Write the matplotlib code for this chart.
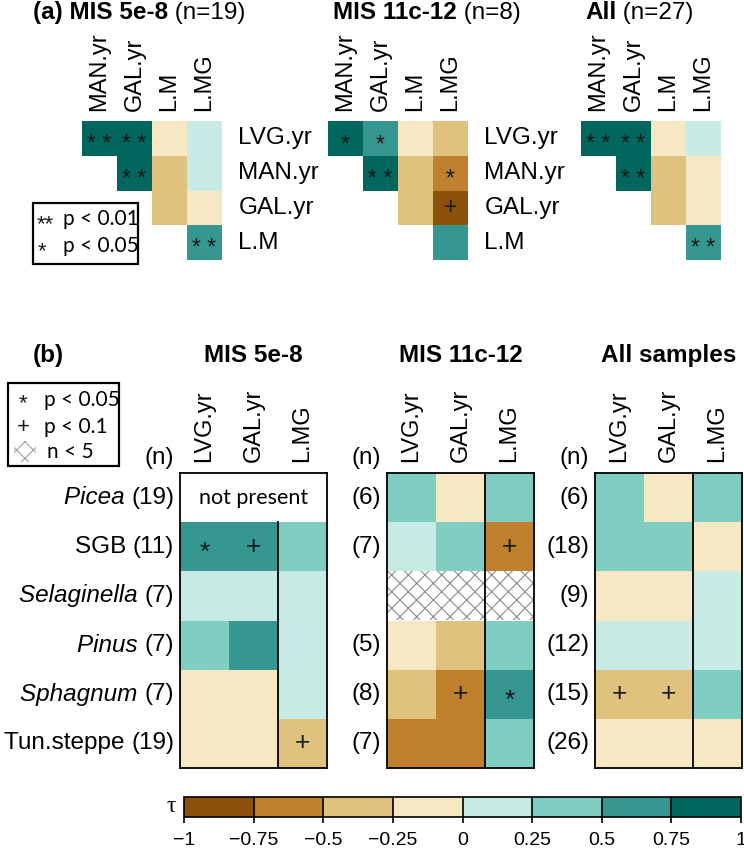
import numpy as np
import matplotlib
matplotlib.use('Agg')
import matplotlib.pyplot as plt
from matplotlib.colors import ListedColormap, BoundaryNorm
from matplotlib.patches import Rectangle
import matplotlib.cm as cm

plt.rcParams['font.family'] = ['Liberation Sans', 'DejaVu Sans']
plt.rcParams['hatch.linewidth'] = 0.8

nan = np.nan

# ---- panel (a): correlations among predictors ----
a_cols = ['MAN.yr', 'GAL.yr', 'L.M', 'L.MG']
a_rows = ['LVG.yr', 'MAN.yr', 'GAL.yr', 'L.M']

tau_a_5e8 = [[0.85, 0.85, -0.1, 0.1],
             [nan, 0.85, -0.35, 0.1],
             [nan, nan, -0.35, -0.1],
             [nan, nan, nan, 0.6]]
sig_a_5e8 = [['**', '**', '', ''],
             ['', '**', '', ''],
             ['', '', '', ''],
             ['', '', '', '**']]

tau_a_11c = [[0.8, 0.6, -0.1, -0.35],
             [nan, 0.85, -0.35, -0.6],
             [nan, nan, -0.35, -0.85],
             [nan, nan, nan, 0.6]]
sig_a_11c = [['*', '*', '', ''],
             ['', '**', '', '*'],
             ['', '', '', '+'],
             ['', '', '', '']]

tau_a_all = [[0.85, 0.85, -0.1, 0.1],
             [nan, 0.85, -0.35, -0.1],
             [nan, nan, -0.35, -0.1],
             [nan, nan, nan, 0.6]]
sig_a_all = [['**', '**', '', ''],
             ['', '**', '', ''],
             ['', '', '', ''],
             ['', '', '', '**']]

# ---- panel (b): taxa vs predictors ----
b_cols = ['LVG.yr', 'GAL.yr', 'L.MG']
taxa = ['Picea', 'SGB', 'Selaginella', 'Pinus', 'Sphagnum', 'Tun.steppe']
taxa_italic = [True, False, True, True, True, False]

n_5e8 = [19, 11, 7, 7, 7, 19]
n_11c = [6, 7, None, 5, 8, 7]
n_all = [6, 18, 9, 12, 15, 26]

tau_b_5e8 = [[nan, nan, nan],
             [0.6, 0.6, 0.4],
             [0.1, 0.1, 0.1],
             [0.4, 0.6, 0.1],
             [-0.1, -0.1, 0.1],
             [-0.1, -0.1, -0.35]]
sig_b_5e8 = [['', '', ''], ['*', '+', ''], ['', '', ''],
             ['', '', ''], ['', '', ''], ['', '', '+']]

tau_b_11c = [[0.4, -0.1, 0.4],
             [0.1, 0.4, -0.6],
             [nan, nan, nan],
             [-0.1, -0.35, 0.4],
             [-0.35, -0.6, 0.6],
             [-0.6, -0.6, 0.4]]
sig_b_11c = [['', '', ''], ['', '', '+'], ['', '', ''],
             ['', '', ''], ['', '+', '*'], ['', '', '']]

tau_b_all = [[0.4, -0.1, 0.4],
             [0.4, 0.4, -0.1],
             [-0.1, -0.1, 0.1],
             [0.1, 0.1, 0.1],
             [-0.35, -0.35, 0.4],
             [-0.1, -0.1, -0.1]]
sig_b_all = [['', '', ''], ['', '', ''], ['', '', ''],
             ['', '', ''], ['+', '+', ''], ['', '', '']]

cbar_ticks = [-1, -0.75, -0.5, -0.25, 0, 0.25, 0.5, 0.75, 1]

colors = ['#8c510a', '#bf812d', '#dfc27d', '#f6e8c3',
          '#c7eae5', '#80cdc1', '#35978f', '#01665e']
cmap = ListedColormap(colors)
norm = BoundaryNorm(cbar_ticks, cmap.N)

W, H = 744, 850
fig = plt.figure(figsize=(W / 100, H / 100), dpi=100)
FS = 17
STAR_C = '#1a1a1a'
LEG_FONT = ['Lato', 'DejaVu Sans']


def px_axes(x0, y0, x1, y1):
    return fig.add_axes([x0 / W, 1 - y1 / H, (x1 - x0) / W, (y1 - y0) / H])


base = fig.add_axes([0, 0, 1, 1])
base.set_xlim(0, W)
base.set_ylim(H, 0)
base.axis('off')


def mark(ax, x, y, s, size=18):
    if not s:
        return
    dy = -4.5 if '*' in s else 0
    ax.annotate(s, (x, y), xytext=(0, dy), textcoords='offset points',
                ha='center', va='center', fontsize=size, color=STAR_C)


def title(x, y, bold_txt, reg_txt, ha='left'):
    t = base.text(x, y, bold_txt, fontsize=17.5, fontweight='bold',
                  ha=ha, va='baseline')
    if reg_txt:
        base.annotate(reg_txt, xy=(1, 0), xycoords=t, fontsize=17.5,
                      ha='left', va='bottom')


# ---------- panel (a) ----------
def draw_a(x0, tau, sig, row_labels=True):
    ax = px_axes(x0, 121, x0 + 140, 260)
    arr = np.ma.masked_invalid(np.array(tau, dtype=float))
    ax.pcolormesh(arr, cmap=cmap, norm=norm)
    ax.set_xlim(0, 4)
    ax.set_ylim(4, 0)
    ax.axis('off')
    for j, c in enumerate(a_cols):
        ax.text(j + 0.5, -0.3, c, rotation=90, ha='center', va='bottom',
                fontsize=FS)
    if row_labels:
        for i, r in enumerate(a_rows):
            ax.text(4.47, i + 0.5, r, ha='left', va='center', fontsize=17.5)
    for i in range(4):
        for j in range(4):
            mark(ax, j + 0.5, i + 0.5, sig[i][j].replace('**', '* *'),
                 size=16.5)


draw_a(82, tau_a_5e8, sig_a_5e8)
draw_a(328, tau_a_11c, sig_a_11c)
draw_a(581, tau_a_all, sig_a_all, row_labels=False)

title(33, 19, '(a) MIS 5e-8', ' (n=19)')
title(333, 19, 'MIS 11c-12', ' (n=8)')
title(585, 19, 'All', ' (n=27)')

# legend (a)
base.add_patch(Rectangle((33, 203), 105, 61, fill=False, lw=1.6, ec='black'))
base.text(37, 225, '**', fontsize=16, ha='left', va='center', color=STAR_C)
base.text(63, 219, 'p < 0.01', fontsize=15, ha='left', va='center',
          family=LEG_FONT)
base.text(38, 252, '*', fontsize=16, ha='left', va='center', color=STAR_C)
base.text(63, 246, 'p < 0.05', fontsize=15, ha='left', va='center',
          family=LEG_FONT)


# ---------- panel (b) ----------
def draw_b(x0, tau, sig, ns, lab_names=False, not_present=None, hatched=()):
    ax = px_axes(x0, 473, x0 + 147, 768)
    arr = np.ma.masked_invalid(np.array(tau, dtype=float))
    ax.pcolormesh(arr, cmap=cmap, norm=norm)
    ax.set_xlim(0, 3)
    ax.set_ylim(6, 0)
    ax.set_xticks([])
    ax.set_yticks([])
    for sp in ax.spines.values():
        sp.set_linewidth(1.3)
    for r in hatched:
        ax.add_patch(Rectangle((0, r), 3, 1, facecolor='white',
                               edgecolor='#8a8a8a', hatch='xx', lw=0))
    y_start = 0
    if not_present is not None:
        ax.text(1.5, not_present + 0.5, 'not present', ha='center',
                va='center', fontsize=15.5, family=LEG_FONT)
        y_start = not_present + 1
    ax.plot([2, 2], [y_start, 6], color='black', lw=1.3, clip_on=False)
    for j, c in enumerate(b_cols):
        ax.text(j + 0.5, -0.22, c, rotation=90, ha='center', va='bottom',
                fontsize=FS)
    ax.text(-0.12, -0.3, '(n)', ha='right', va='center', fontsize=17.5)
    for i in range(6):
        if ns[i] is None:
            continue
        t = ax.text(-0.12, i + 0.5, f'({ns[i]})', ha='right', va='center',
                    fontsize=17.5)
        if lab_names:
            ax.annotate(taxa[i] + ' ', xy=(0, 0.5), xycoords=t, ha='right',
                        va='center', fontsize=17.5,
                        style='italic' if taxa_italic[i] else 'normal')
    for i in range(6):
        for j in range(3):
            mark(ax, j + 0.5, i + 0.5, sig[i][j], size=19)


draw_b(180, tau_b_5e8, sig_b_5e8, n_5e8, lab_names=True, not_present=0)
draw_b(387, tau_b_11c, sig_b_11c, n_11c, hatched=(2,))
draw_b(595, tau_b_all, sig_b_all, n_all)

base.text(33, 362, '(b)', fontsize=17.5, fontweight='bold', va='baseline')
title(253.5, 362, 'MIS 5e-8', None, ha='center')
title(460.5, 362, 'MIS 11c-12', None, ha='center')
title(668.5, 362, 'All samples', None, ha='center')

# legend (b)
base.add_patch(Rectangle((8, 383), 111, 83, fill=False, lw=1.6, ec='black'))
base.text(23, 404, '*', fontsize=16, ha='center', va='center', color=STAR_C)
base.text(44, 400, 'p < 0.05', fontsize=15, ha='left', va='center',
          family=LEG_FONT)
base.text(23, 427, '+', fontsize=16, ha='center', va='center', color=STAR_C)
base.text(44, 427, 'p < 0.1', fontsize=15, ha='left', va='center',
          family=LEG_FONT)
base.add_patch(Rectangle((14, 441), 22, 21, facecolor='white',
                         edgecolor='#a0a0a0', hatch='xx', lw=0))
base.text(47, 452, 'n < 5', fontsize=15, ha='left', va='center',
          family=LEG_FONT)

# ---------- colour bar ----------
cax = px_axes(184, 797, 741, 817)
sm = cm.ScalarMappable(cmap=cmap, norm=norm)
cb = fig.colorbar(sm, cax=cax, orientation='horizontal', ticks=cbar_ticks,
                  drawedges=True)
cb.outline.set_linewidth(1.2)
cb.dividers.set_linewidth(1.2)
cb.ax.tick_params(length=4, width=1.2, pad=7, labelsize=14)
cb.ax.set_xticklabels(['\u22121', '\u22120.75', '\u22120.5', '\u22120.25',
                       '0', '0.25', '0.5', '0.75', '1'])
base.text(171, 807, '\u03c4', fontsize=17, ha='center', va='center',
          family=['Liberation Serif', 'DejaVu Serif'])

fig.savefig('out.png', dpi=100)
